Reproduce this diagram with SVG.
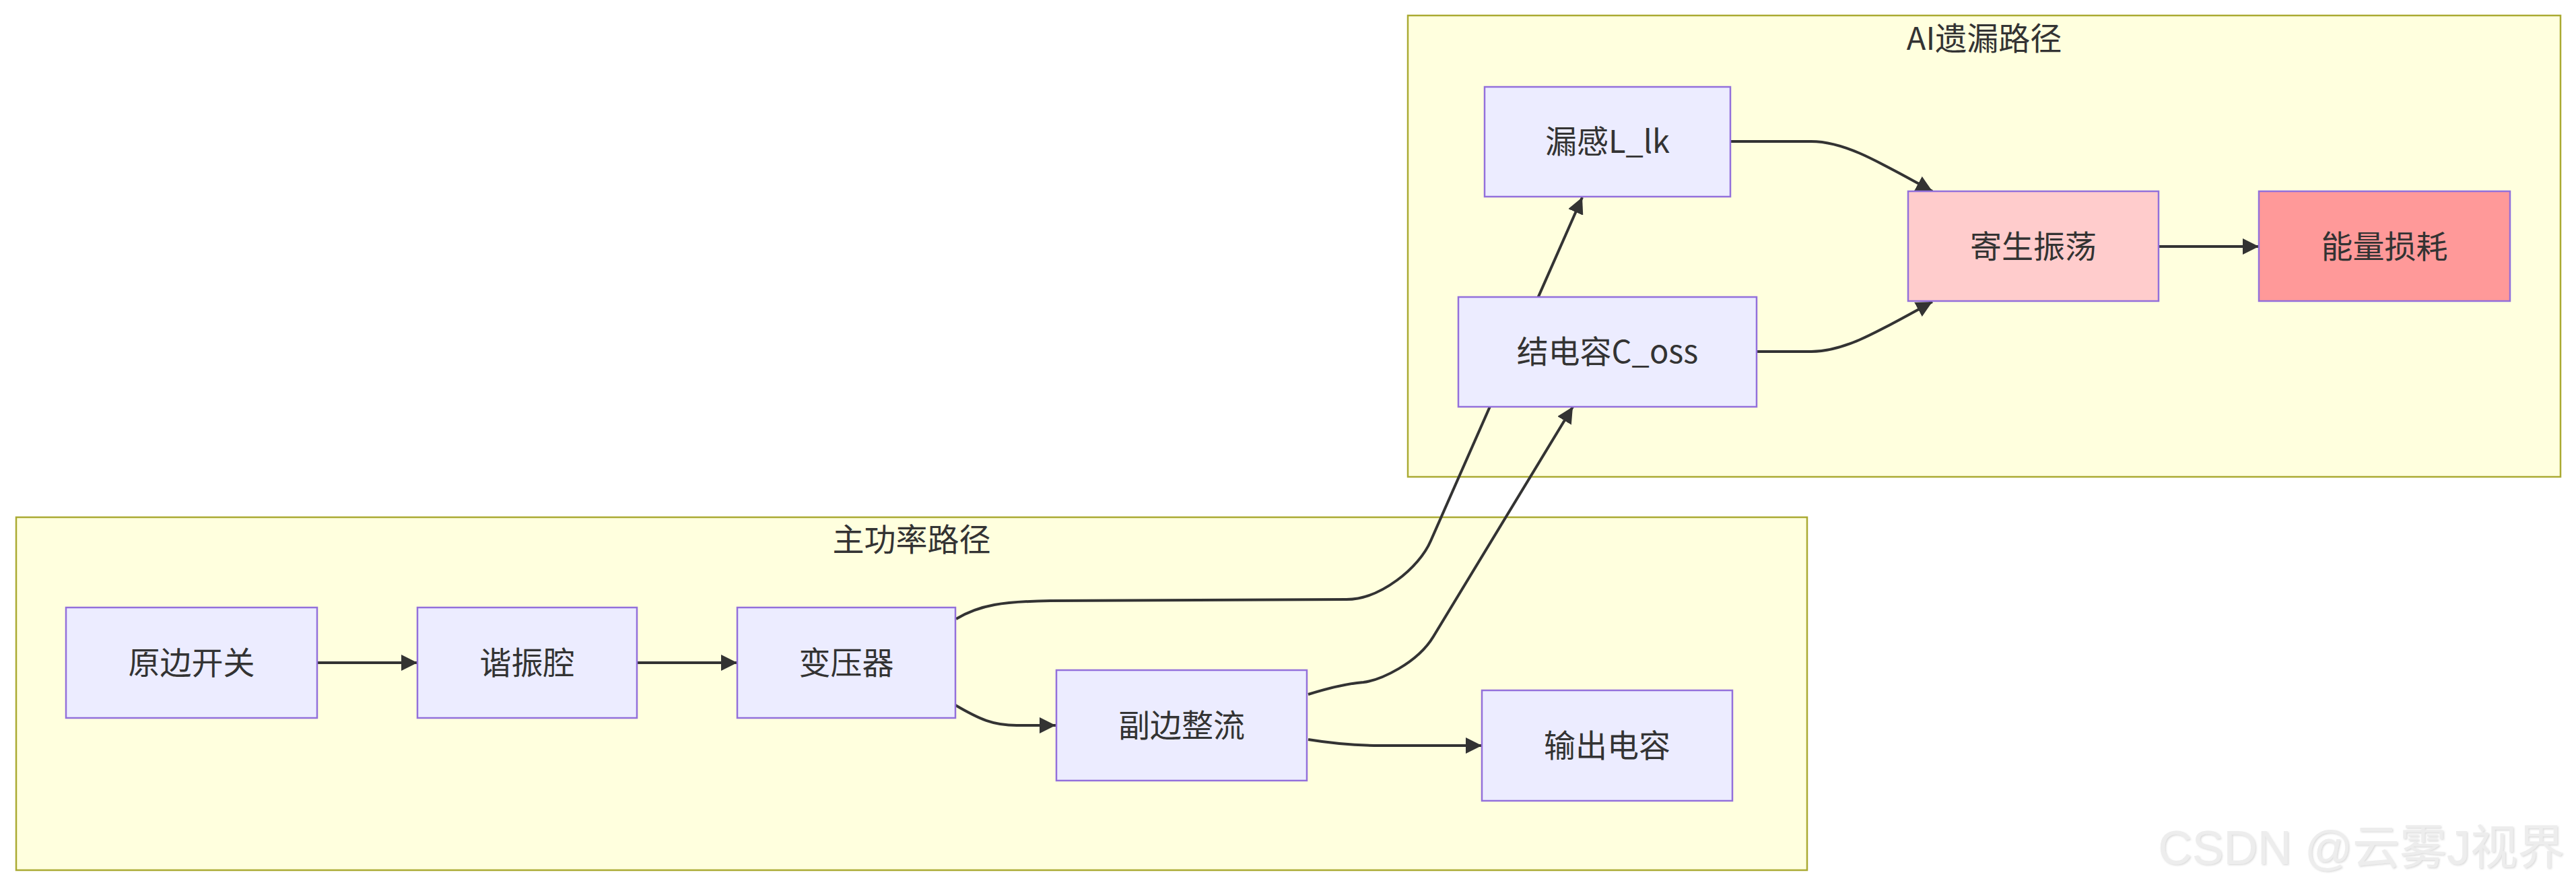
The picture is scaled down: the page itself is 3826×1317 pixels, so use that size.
<svg xmlns="http://www.w3.org/2000/svg" width="3826" height="1317" viewBox="0 0 3826 1317">
<style>
.cluster{fill:#ffffde;stroke:#aaaa33;stroke-width:2.5}
.node rect{fill:#ececff;stroke:#9370db;stroke-width:2.5}
.t{font-family:"Noto Sans CJK SC","Noto Sans",sans-serif;font-size:47px;fill:#333;text-anchor:middle}
.edge{fill:none;stroke:#333;stroke-width:4;marker-end:url(#arrow)}
.wm{font-family:"Liberation Sans","Noto Sans CJK SC",sans-serif;font-size:70px;fill:#ededed;text-anchor:end}
</style>
<defs>
<marker id="arrow" markerUnits="userSpaceOnUse" viewBox="0 0 24 24" refX="24" refY="12" markerWidth="24" markerHeight="24" orient="auto">
<path d="M0,0 L24,12 L0,24 z" fill="#333"/>
</marker>
<filter id="sh" x="-5%" y="-20%" width="110%" height="140%">
<feDropShadow dx="1.5" dy="1.5" stdDeviation="1" flood-color="#999" flood-opacity="0.35"/>
</filter>
</defs>
<rect width="3826" height="1317" fill="#ffffff"/>
<g id="cluster-main">
<rect class="cluster" x="24" y="768" width="2660" height="524"/>
<text class="t" x="1354" y="818">主功率路径</text>
</g>
<g id="cluster-ai">
<rect class="cluster" x="2091" y="23" width="1712" height="685"/>
<text class="t" x="2947" y="74">AI遗漏路径</text>
</g>
<g id="edges">
<path class="edge" d="M471,984 L620,984"/>
<path class="edge" d="M946,984 L1095,984"/>
<path class="edge" d="M1419,1047 C1455,1068 1475,1077 1510,1077 L1568,1077"/>
<path class="edge" d="M1420,919 C1455,898 1490,893 1560,892 L2000,890 C2050,890 2108,843 2125,803 L2350,293"/>
<path class="edge" d="M1943,1031 C1975,1021 2000,1015 2025,1013 C2050,1010 2105,985 2129,945 L2336,604"/>
<path class="edge" d="M1943,1098 C1980,1104 2010,1107 2050,1107 L2201,1107"/>
<path class="edge" d="M2570,210 L2690,210 C2740,210 2790,240 2870,284"/>
<path class="edge" d="M2609,522 L2690,522 C2740,522 2790,492 2870,448"/>
<path class="edge" d="M3206,366 L3355,366"/>
</g>
<g id="n-primary" class="node"><rect x="98" y="902" width="373" height="164"/><text class="t" x="284.5" y="1001">原边开关</text></g>
<g id="n-resonant" class="node"><rect x="620" y="902" width="326" height="164"/><text class="t" x="783" y="1001">谐振腔</text></g>
<g id="n-transformer" class="node"><rect x="1095" y="902" width="324" height="164"/><text class="t" x="1257" y="1001">变压器</text></g>
<g id="n-rectifier" class="node"><rect x="1569" y="995" width="372" height="164"/><text class="t" x="1755" y="1094">副边整流</text></g>
<g id="n-outcap" class="node"><rect x="2201" y="1025" width="372" height="164"/><text class="t" x="2387" y="1124">输出电容</text></g>
<g id="n-leak" class="node"><rect x="2205" y="129" width="365" height="163"/><text class="t" x="2387.5" y="227">漏感L_lk</text></g>
<g id="n-coss" class="node"><rect x="2166" y="441" width="443" height="163"/><text class="t" x="2387.5" y="539">结电容C_oss</text></g>
<g id="n-ringing" class="node"><rect x="2834" y="284" width="372" height="163" style="fill:#ffcccc"/><text class="t" x="3020" y="383">寄生振荡</text></g>
<g id="n-loss" class="node"><rect x="3355" y="284" width="373" height="163" style="fill:#ff9999"/><text class="t" x="3541.5" y="383">能量损耗</text></g>
<text class="wm" x="3809" y="1283" filter="url(#sh)">CSDN @云雾J视界</text>
</svg>
